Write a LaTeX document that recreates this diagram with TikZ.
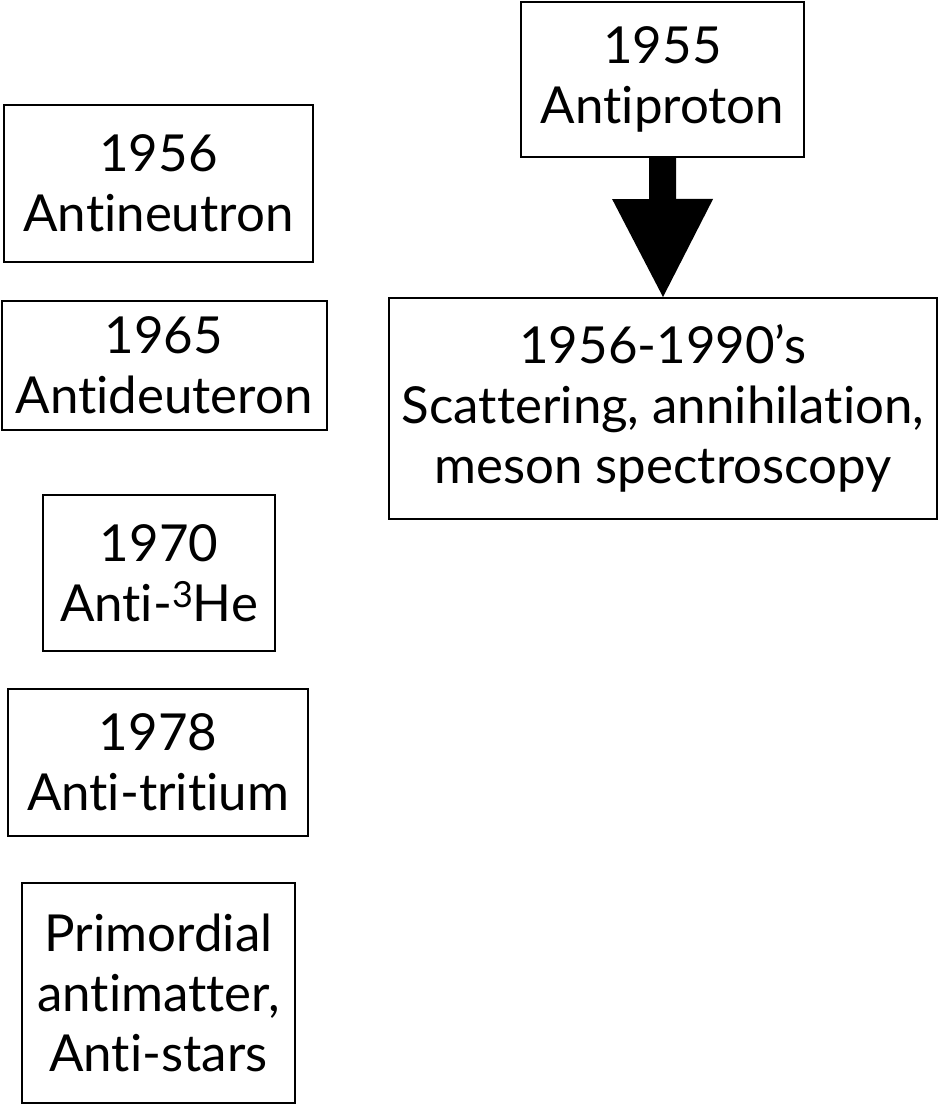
\documentclass[tikz,border=0pt]{standalone}
\usepackage{fontspec}
\setmainfont{Lato}[Ligatures=NoCommon]
\usetikzlibrary{arrows.meta}
\newcommand{\supthree}{\raisebox{14pt}{\fontsize{36}{36}\selectfont 3}}
\begin{document}
\begin{tikzpicture}[x=1pt,y=-1pt,
  box/.style={draw, line width=2pt, align=center, inner sep=0pt,
    font=\fontsize{51}{60}\selectfont},
  bigarrow/.style={line width=27pt, -{Triangle[width=101pt,length=98pt,line width=0pt]}}
]
\useasboundingbox (0,0) rectangle (944,1105);
\node[box, minimum width=283pt, minimum height=155pt] (ap) at (662.5,79.5) {1955\\Antiproton};
\node[box, minimum width=548pt, minimum height=221pt] (sc) at (663,408.5) {1956-1990’s\\Scattering, annihilation,\\meson spectroscopy};
\node[box, minimum width=309pt, minimum height=157pt] (an) at (158.5,183.5) {1956\\Antineutron};
\node[box, minimum width=325pt, minimum height=129pt] (ad) at (164,365.5) {1965\\Antideuteron};
\node[box, minimum width=232pt, minimum height=156pt] (he) at (159,573) {1970\\Anti-\supthree He};
\node[box, minimum width=300pt, minimum height=147pt] (tr) at (158,762.5) {1978\\Anti-tritium};
\node[box, minimum width=273pt, minimum height=220pt] (pr) at (158.5,993) {Primordial\\antimatter,\\Anti-stars};
\draw[bigarrow] (ap.south) -- (sc.north);
\end{tikzpicture}
\end{document}
